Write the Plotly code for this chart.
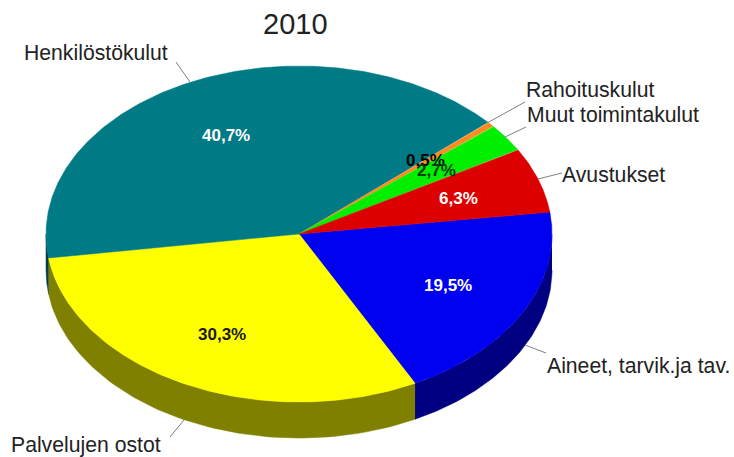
import numpy as np
import plotly.graph_objects as go

categories = ["Aineet, tarvik.ja tav.", "Palvelujen ostot", "Henkilöstökulut",
              "Rahoituskulut", "Muut toimintakulut", "Avustukset"]
values = [19.5, 30.3, 40.7, 0.5, 2.7, 6.3]
top_colors = ["#0000F0", "#FFFF00", "#007A85", "#FF8A1E", "#00EE00", "#DC0000"]
side_colors = ["#000080", "#808000", "#003F46", "#804000", "#007000", "#700000"]
title_text = "2010"

CX, CY, RX, RY, DEPTH = 299, 234, 253, 168, 36
START_DEG = 7.5

label_pos = [(545, 366, "left"), (9, 445, "left"), (22, 52, "left"),
             (524, 89, "left"), (525, 114, "left"), (560, 174, "left")]
pct_pos = [(448, 285, "white"), (222, 334, "#1a1a1a"), (226, 135, "white"),
           (425, 160, "black"), (436, 170, "#0b3a0b"), (458, 198, "white")]
leaders = [((546, 353), (525, 345)), ((170, 437), (184, 420)), ((176, 62), (190, 82)),
           ((525, 102), (487, 123)), ((526, 127), (505, 137)), ((562, 173), (538, 179))]

fig = go.Figure()


def px(a):
    return CX + RX * np.cos(a), CY - RY * np.sin(a)


def poly(xs, ys, color):
    fig.add_trace(go.Scatter(x=xs, y=ys, mode="lines", fill="toself", fillcolor=color,
                             line=dict(color=color, width=0.5), hoverinfo="skip",
                             showlegend=False))


edges = START_DEG - np.concatenate([[0], np.cumsum(values)]) * 3.6

# side wall: only the front half of the ellipse is visible
for i, col in enumerate(side_colors):
    a0, a1 = edges[i], edges[i + 1]
    for k in (0, -1):
        lo = max(a1, -180 + 360 * k)
        hi = min(a0, 0 + 360 * k)
        if lo < hi:
            t = np.radians(np.linspace(hi, lo, 80))
            x, y = px(t)
            poly(np.concatenate([x, x[::-1]]), np.concatenate([y, (y + DEPTH)[::-1]]), col)

# top face
for i, col in enumerate(top_colors):
    t = np.radians(np.linspace(edges[i], edges[i + 1], 200))
    x, y = px(t)
    poly(np.concatenate([[CX], x, [CX]]), np.concatenate([[CY], y, [CY]]), col)

anns = [dict(x=295, y=24, text=title_text, showarrow=False,
             font=dict(family="Liberation Sans", size=29, color="#222"))]
for name, (x, y, anchor) in zip(categories, label_pos):
    anns.append(dict(x=x, y=y, text=name, showarrow=False, xanchor=anchor,
                     font=dict(family="Liberation Sans", size=21.2, color="#222")))
for v, (x, y, c) in zip(values, pct_pos):
    anns.append(dict(x=x, y=y, text="<b>%s%%</b>" % f"{v:.1f}".replace(".", ","),
                     showarrow=False, font=dict(family="Liberation Sans", size=17, color=c)))

shapes = [dict(type="line", x0=a[0], y0=a[1], x1=b[0], y1=b[1],
               line=dict(color="#808080", width=1)) for a, b in leaders]

fig.update_layout(
    width=734, height=457, margin=dict(l=0, r=0, t=0, b=0),
    paper_bgcolor="white", plot_bgcolor="white", showlegend=False,
    xaxis=dict(range=[0, 734], visible=False, fixedrange=True),
    yaxis=dict(range=[457, 0], visible=False, fixedrange=True),
    annotations=anns, shapes=shapes,
)
fig.write_html("out.html", config={"displayModeBar": False},
               post_script="document.body.style.margin='0';document.documentElement.style.overflow='hidden';")
